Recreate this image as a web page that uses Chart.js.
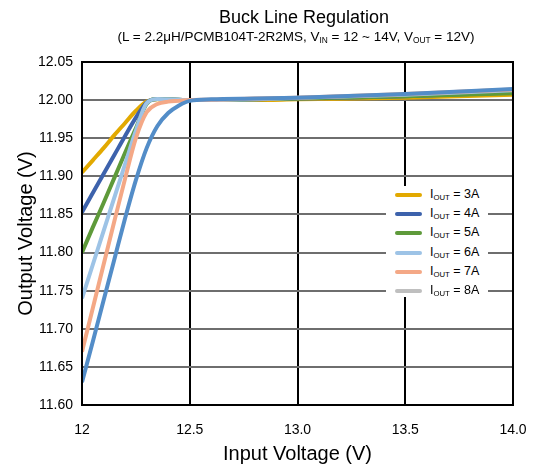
<!DOCTYPE html>
<html>
<head>
<meta charset="utf-8">
<script src="https://cdn.jsdelivr.net/npm/chart.js@4/dist/chart.umd.min.js"></script>
<style>
  html, body { margin: 0; padding: 0; background: #fff; }
  #wrap { position: relative; width: 534px; height: 472px; font-family: "Liberation Sans", Arial, sans-serif; color: #000; }
  #chart { position: absolute; left: 0; top: 0; }
  .ttl { position: absolute; left: 0; text-align: center; white-space: nowrap; }
  #title { top: 7px; font-size: 18px; width: 608px; }
  #subtitle { top: 29px; font-size: 13.5px; width: 592px; }
  .ttl sub, .lg sub { font-size: 0.62em; vertical-align: -0.25em; }
  #legend { position: absolute; left: 386px; top: 186px; width: 102px; height: 111px; background: #fff; }
  .row { position: absolute; left: 0; height: 19px; width: 102px; }
  .sw { position: absolute; left: 9px; top: 7px; width: 27px; height: 4px; border-radius: 2px; }
  .lg { position: absolute; left: 44px; top: 1px; font-size: 12.5px; white-space: nowrap; }
</style>
</head>
<body>
<div id="wrap">
  <canvas id="chart" width="534" height="472"></canvas>
  <div class="ttl" id="title">Buck Line Regulation</div>
  <div class="ttl" id="subtitle">(L = 2.2μH/PCMB104T-2R2MS, V<sub>IN</sub> = 12 ~ 14V, V<sub>OUT</sub> = 12V)</div>
  <div id="legend"></div>
</div>
<script>
  // ── 데이터 ────────────────────────────────────────────────
  var VIN = [12.0, 12.05, 12.1, 12.15, 12.2, 12.25, 12.3, 12.35, 12.4, 12.45, 12.5, 12.6, 12.8, 13.0, 13.5, 14.0];
  var SERIES_NAMES = ["3A", "4A", "5A", "6A", "7A", "8A"];
  var VOUT_3A = [11.905, 11.921, 11.937, 11.954, 11.970, 11.986, 11.998, 12.001, 12.000, 12.000, 12.000, 12.000, 12.000, 12.001, 12.003, 12.007];
  var VOUT_4A = [11.853, 11.878, 11.903, 11.928, 11.953, 11.977, 11.997, 12.0015, 12.001, 12.0005, 12.000, 12.000, 12.001, 12.002, 12.005, 12.010];
  var VOUT_5A = [11.800, 11.833, 11.865, 11.898, 11.931, 11.963, 11.995, 12.0015, 12.001, 12.0005, 12.000, 12.000, 12.001, 12.002, 12.005, 12.009];
  var VOUT_6A = [11.740, 11.784, 11.828, 11.872, 11.916, 11.960, 11.996, 12.0015, 12.001, 12.0005, 12.000, 12.000, 12.001, 12.003, 12.007, 12.013];
  var VOUT_7A = [11.670, 11.727, 11.784, 11.841, 11.897, 11.950, 11.984, 11.995, 11.998, 11.999, 12.000, 12.0005, 12.002, 12.003, 12.008, 12.014];
  var VOUT_8A = [11.630, 11.683, 11.737, 11.791, 11.845, 11.895, 11.937, 11.966, 11.983, 11.993, 11.999, 12.001, 12.002, 12.003, 12.008, 12.0145];
  var X_TICK_LABELS = ["12", "12.5", "13.0", "13.5", "14.0"];

  // ── 색상 ──────────────────────────────────────────────────
  var LINE_COLORS = ["#E2A900", "#3D62AC", "#5E9A3A", "#9DC3E6", "#F4A886", "#538DC8"];
  var LEGEND_COLORS = ["#E2A900", "#3D62AC", "#5E9A3A", "#9DC3E6", "#F4A886", "#BFBFBF"];

  var SERIES = [VOUT_3A, VOUT_4A, VOUT_5A, VOUT_6A, VOUT_7A, VOUT_8A];

  var datasets = SERIES.map(function (vals, i) {
    return {
      label: "IOUT = " + SERIES_NAMES[i],
      data: VIN.map(function (x, j) { return { x: x, y: vals[j] }; }),
      borderColor: LINE_COLORS[i],
      borderWidth: 4,
      pointRadius: 0,
      cubicInterpolationMode: "monotone",
      fill: false,
      order: SERIES.length - i
    };
  });

  // 검정 테두리
  var framePlugin = {
    id: "frame",
    afterDraw: function (chart) {
      var a = chart.chartArea, c = chart.ctx;
      c.save();
      c.strokeStyle = "#000";
      c.lineWidth = 2;
      c.strokeRect(a.left, a.top, a.right - a.left, a.bottom - a.top);
      c.restore();
    }
  };

  var FONT = "'Liberation Sans', Arial, sans-serif";

  new Chart(document.getElementById("chart").getContext("2d"), {
    type: "line",
    data: { datasets: datasets },
    options: {
      responsive: false,
      animation: false,
      layout: { padding: { top: 62, right: 21, left: 0, bottom: 0 } },
      plugins: { legend: { display: false }, tooltip: { enabled: false } },
      scales: {
        x: {
          type: "linear",
          min: 12,
          max: 14,
          afterFit: function (s) { s.height = 67; s.paddingLeft = 0; s.paddingRight = 0; },
          ticks: {
            stepSize: 0.5,
            color: "#000",
            padding: 17,
            font: { family: FONT, size: 14 },
            callback: function (v, idx) { return X_TICK_LABELS[idx]; }
          },
          grid: { color: "#000", lineWidth: 2, drawTicks: false },
          border: { color: "#000", width: 2 },
          title: {
            display: true,
            text: "Input Voltage (V)",
            color: "#000",
            font: { family: FONT, size: 20 },
            padding: { top: 0, bottom: 6 }
          }
        },
        y: {
          min: 11.6,
          max: 12.05,
          afterFit: function (s) { s.width = 82; s.paddingTop = 0; s.paddingBottom = 0; },
          ticks: {
            stepSize: 0.05,
            color: "#000",
            padding: 9,
            font: { family: FONT, size: 14 },
            callback: function (v) { return v.toFixed(2); }
          },
          grid: { color: "#6e6e6e", lineWidth: 2, drawTicks: false },
          border: { color: "#000", width: 2 },
          title: {
            display: true,
            text: "Output Voltage (V)",
            color: "#000",
            font: { family: FONT, size: 20 },
            padding: { top: 14, bottom: 0 }
          }
        }
      }
    },
    plugins: [framePlugin]
  });

  // ── 범례 (HTML, 아래첨자) ─────────────────────────────────
  var lg = document.getElementById("legend");
  SERIES_NAMES.forEach(function (name, i) {
    var row = document.createElement("div");
    row.className = "row";
    row.style.top = (i * 19.2) + "px";
    row.innerHTML = '<span class="sw" style="background:' + LEGEND_COLORS[i] + '"></span>' +
      '<span class="lg">I<sub>OUT</sub> = ' + name + '</span>';
    lg.appendChild(row);
  });
</script>
</body>
</html>
